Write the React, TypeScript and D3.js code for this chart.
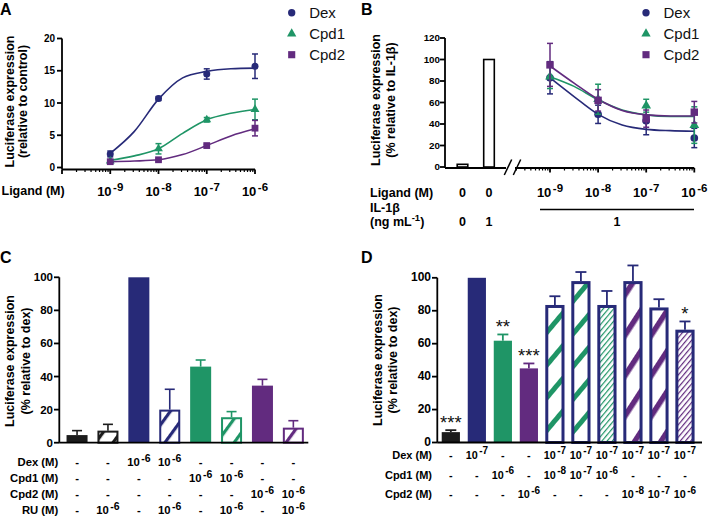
import React from 'react';
import * as d3 from 'd3';

const FONT = "'Liberation Sans', Arial, Helvetica, sans-serif";
const NAVY = '#272a78';
const GREEN = '#1f9566';
const PURPLE = '#622b7f';
const BLACK = '#1c1c1c';

// ---------------- Panel A data ----------------
const seriesNames = ['Dex', 'Cpd1', 'Cpd2'];
const aDoses = [-9, -8, -7, -6];
const aDexMean = [2.1, 10.7, 14.5, 15.7];
const aDexErr = [0.45, 0.3, 0.8, 1.9];
const aCpd1Mean = [1.0, 2.9, 7.4, 9.0];
const aCpd1Err = [0.2, 0.8, 0.35, 1.6];
const aCpd2Mean = [0.9, 1.2, 3.4, 6.1];
const aCpd2Err = [0.1, 0.15, 0.2, 1.2];
const aFitX = [-9, -8.5, -8, -7.5, -7, -6.5, -6];
const aDexFit = [2.2, 5.6, 10.6, 13.9, 14.9, 15.3, 15.4];
const aCpd1Fit = [1.1, 1.8, 2.9, 5.3, 7.4, 8.4, 9.0];
const aCpd2Fit = [0.9, 1.0, 1.2, 2.0, 3.4, 4.9, 6.0];
const aYTicks = [0, 5, 10, 15, 20];
const aXTickLabels = ['10^-9', '10^-8', '10^-7', '10^-6'];

// ---------------- Panel B data ----------------
const bCtrlIds = ['noIL', 'IL'];
const bCtrlValues = [2.5, 100];
const bCtrlLigand = ['0', '0'];
const bCtrlIL = ['0', '1'];
const bDoses = [-9, -8, -7, -6];
const bDexMean = [83, 49, 43, 27];
const bDexErr = [15, 8.5, 13, 9];
const bCpd1Mean = [84, 63, 57, 39];
const bCpd1Err = [11, 14, 6, 17];
const bCpd2Mean = [95, 62, 45, 51];
const bCpd2Err = [20, 10, 8, 10];
const bFitX = [-9, -8.5, -8, -7.5, -7, -6.5, -6];
const bDexFit = [83, 65.5, 49, 39, 35, 33.8, 33.3];
const bCpd1Fit = [84, 75, 62.5, 53, 48.5, 47, 47];
const bCpd2Fit = [94, 78, 63, 52.5, 48.5, 47.5, 47.5];
const bYTicks = [0, 20, 40, 60, 80, 100, 120];
const bXTickLabels = ['10^-9', '10^-8', '10^-7', '10^-6'];

// ---------------- Panel C data ----------------
const cIds = ['c1', 'c2', 'c3', 'c4', 'c5', 'c6', 'c7', 'c8'];
const cValues = [4.6, 7.3, 100, 20, 46, 15.4, 34.5, 9.1];
const cErrors = [2.7, 3.8, 0, 12.3, 4, 3.4, 3.8, 4.2];
const cYTicks = [0, 20, 40, 60, 80, 100];
const cRowLabels = ['Dex (M)', 'Cpd1 (M)', 'Cpd2 (M)', 'RU (M)'];
const cDexRow = ['-', '-', '10^-6', '10^-6', '-', '-', '-', '-'];
const cCpd1Row = ['-', '-', '-', '-', '10^-6', '10^-6', '-', '-'];
const cCpd2Row = ['-', '-', '-', '-', '-', '-', '10^-6', '10^-6'];
const cRuRow = ['-', '10^-6', '-', '10^-6', '-', '10^-6', '-', '10^-6'];

// ---------------- Panel D data ----------------
const dIds = ['d1', 'd2', 'd3', 'd4', 'd5', 'd6', 'd7', 'd8', 'd9', 'd10'];
const dValues = [6.3, 100, 61.8, 45, 83.5, 98, 83.5, 98, 82, 68.5];
const dErrors = [1.2, 0, 3.8, 3, 5.3, 5.5, 8.5, 9.5, 5, 5];
const dStars = ['***', '', '**', '***', '', '', '', '', '', '*'];
const dYTicks = [0, 20, 40, 60, 80, 100];
const dRowLabels = ['Dex (M)', 'Cpd1 (M)', 'Cpd2 (M)'];
const dDexRow = ['-', '10^-7', '-', '-', '10^-7', '10^-7', '10^-7', '10^-7', '10^-7', '10^-7'];
const dCpd1Row = ['-', '-', '10^-6', '-', '10^-8', '10^-7', '10^-6', '-', '-', '-'];
const dCpd2Row = ['-', '-', '-', '10^-6', '-', '-', '-', '10^-8', '10^-7', '10^-6'];

// ---------------- styles ----------------
const seriesColors = [NAVY, GREEN, PURPLE];
const cColors = [BLACK, BLACK, NAVY, NAVY, GREEN, GREEN, PURPLE, PURPLE];
const cHatched = [false, true, false, true, false, true, false, true];
const dFills = [BLACK, NAVY, GREEN, PURPLE, 'url(#dThickG)', 'url(#dThickG)', 'url(#dThinG)', 'url(#dThickP)', 'url(#dThickP)', 'url(#dThinP)'];
const dOutlined = [false, false, false, false, true, true, true, true, true, true];

function minorLogTicks(lo: number, hi: number) {
  const out: number[] = [];
  for (let d = Math.floor(lo); d < Math.ceil(hi); d++) {
    for (let k = 2; k <= 9; k++) {
      const v = d + Math.log10(k);
      if (v >= lo && v <= hi) out.push(v);
    }
  }
  return out;
}

function Pow({ s, x, y, size = 12, sup = 11, anchor = 'middle', raise = 5 }: any) {
  if (s.indexOf('^') < 0) {
    return (
      <text x={x} y={y} textAnchor={anchor} fontSize={size} fontWeight="bold" fontFamily={FONT}>{s}</text>
    );
  }
  const [base, exp] = s.split('^');
  return (
    <text x={x} y={y} textAnchor={anchor} fontSize={size} fontWeight="bold" fontFamily={FONT}>
      <tspan>{base}</tspan>
      <tspan dx={1.5} dy={-raise} fontSize={sup}>{exp}</tspan>
    </text>
  );
}

function Marker({ i, x, y, scale = 1 }: any) {
  const color = seriesColors[i];
  if (i === 0) return <circle cx={x} cy={y} r={3.5 * scale} fill={color} />;
  const sym = i === 1 ? d3.symbolTriangle : d3.symbolSquare;
  const size = i === 1 ? 34 * scale * scale : 46 * scale * scale;
  const p = d3.symbol().type(sym).size(size)();
  return <path d={p || ''} transform={`translate(${x},${y})`} fill={color} />;
}

function ErrBar({ x, y1, y2, color, cap = 6, sw = 1.5 }: any) {
  return (
    <g stroke={color} strokeWidth={sw} fill="none">
      <line x1={x} x2={x} y1={y1} y2={y2} />
      <line x1={x - cap / 2} x2={x + cap / 2} y1={y1} y2={y1} />
      <line x1={x - cap / 2} x2={x + cap / 2} y1={y2} y2={y2} />
    </g>
  );
}

function UpErr({ x, y1, y2, color, cap = 10, sw = 1.6 }: any) {
  return (
    <g stroke={color} strokeWidth={sw} fill="none">
      <line x1={x} x2={x} y1={y1} y2={y2} />
      <line x1={x - cap / 2} x2={x + cap / 2} y1={y2} y2={y2} />
    </g>
  );
}

function YLabel({ x1, x2, cy, l1, l2, size = 12.5 }: any) {
  return (
    <g fontFamily={FONT} fontWeight="bold" fontSize={size} textAnchor="middle">
      <text transform={`translate(${x1},${cy}) rotate(-90)`}>{l1}</text>
      <text transform={`translate(${x2},${cy}) rotate(-90)`}>{l2}</text>
    </g>
  );
}

function Legend({ x, y }: any) {
  return (
    <g>
      {seriesNames.map((n, i) => (
        <g key={n}>
          <Marker i={i} x={x} y={y + i * 21} scale={1.05} />
          <text x={x + 17.5} y={y + i * 21 + 5.3} fontSize={15} fontFamily={FONT} fill="#111">{n}</text>
        </g>
      ))}
    </g>
  );
}

export default function App() {
  // ---------- Panel A scales ----------
  const ax = d3.scaleLinear().domain([-10, -6]).range([62, 255]);
  const ay = d3.scaleLinear().domain([0, 20]).range([167.5, 38.5]);
  const aAxisY = 169.5;
  const aLine = d3.line<[number, number]>().x(d => ax(d[0])).y(d => ay(d[1])).curve(d3.curveMonotoneX);
  const aMeans = [aDexMean, aCpd1Mean, aCpd2Mean];
  const aErrs = [aDexErr, aCpd1Err, aCpd2Err];
  const aFits = [aDexFit, aCpd1Fit, aCpd2Fit];

  // ---------- Panel B scales ----------
  const bx = d3.scaleLinear().domain([-9, -6]).range([550, 694.3]);
  const bStart = bx.invert(515);
  const by = d3.scaleLinear().domain([0, 120]).range([167, 38]);
  const bAxisY = 168;
  const bBand = d3.scaleBand().domain(bCtrlIds).range([449.25, 502.25]).paddingInner(0.6).paddingOuter(0.3);
  const bLine = d3.line<[number, number]>().x(d => bx(d[0])).y(d => by(d[1])).curve(d3.curveMonotoneX);
  const bMeans = [bDexMean, bCpd1Mean, bCpd2Mean];
  const bErrs = [bDexErr, bCpd1Err, bCpd2Err];
  const bFits = [bDexFit, bCpd1Fit, bCpd2Fit];

  // ---------- Panel C scales ----------
  const cx = d3.scaleBand().domain(cIds).range([61.6, 308.8]).paddingInner(0.32).paddingOuter(0.16);
  const cy = d3.scaleLinear().domain([0, 100]).range([442.7, 277.3]);
  const cRows = [cDexRow, cCpd1Row, cCpd2Row, cRuRow];
  const cRowY = [466, 482, 498, 514];

  // ---------- Panel D scales ----------
  const dx = d3.scaleBand().domain(dIds).range([437.3, 698.5]).paddingInner(0.3).paddingOuter(0.17);
  const dy = d3.scaleLinear().domain([0, 100]).range([442.5, 277.8]);
  const dRows = [dDexRow, dCpd1Row, dCpd2Row];
  const dRowY = [458.5, 478.5, 498];

  const axisSW = 1.8;

  return (
    <svg width={709} height={518} style={{ position: 'absolute', left: 0, top: 0, background: '#fff' }} fontFamily={FONT}>
      <defs>
        <pattern id="cHatchBlack" patternUnits="userSpaceOnUse" width={14} height={14} patternTransform="rotate(36)">
          <rect width={14} height={14} fill="#fff" />
          <rect width={3.2} height={14} fill={BLACK} />
        </pattern>
        <pattern id="cHatchNavy" patternUnits="userSpaceOnUse" width={14} height={14} patternTransform="rotate(36)">
          <rect width={14} height={14} fill="#fff" />
          <rect width={3.2} height={14} fill={NAVY} />
        </pattern>
        <pattern id="cHatchGreen" patternUnits="userSpaceOnUse" width={14} height={14} patternTransform="rotate(36)">
          <rect width={14} height={14} fill="#fff" />
          <rect width={3.2} height={14} fill={GREEN} />
        </pattern>
        <pattern id="cHatchPurple" patternUnits="userSpaceOnUse" width={14} height={14} patternTransform="rotate(36)">
          <rect width={14} height={14} fill="#fff" />
          <rect width={3.2} height={14} fill={PURPLE} />
        </pattern>
        <pattern id="dThickG" patternUnits="userSpaceOnUse" width={21} height={21} patternTransform="rotate(40)">
          <rect width={21} height={21} fill="#fff" />
          <rect width={5} height={21} fill={GREEN} />
        </pattern>
        <pattern id="dThickP" patternUnits="userSpaceOnUse" width={22} height={22} patternTransform="rotate(33)">
          <rect width={22} height={22} fill="#fff" />
          <rect width={5.5} height={22} fill={PURPLE} />
        </pattern>
        <pattern id="dThinG" patternUnits="userSpaceOnUse" width={4} height={4} patternTransform="rotate(40)">
          <rect width={4} height={4} fill="#fff" />
          <rect width={1.2} height={4} fill={GREEN} />
        </pattern>
        <pattern id="dThinP" patternUnits="userSpaceOnUse" width={4} height={4} patternTransform="rotate(40)">
          <rect width={4} height={4} fill="#fff" />
          <rect width={1.2} height={4} fill={PURPLE} />
        </pattern>
      </defs>

      {/* Panel letters */}
      <g fontWeight="bold" fontSize={16} fontFamily={FONT}>
        <text x={0} y={14.5}>A</text>
        <text x={361} y={14.5}>B</text>
        <text x={0} y={262.5}>C</text>
        <text x={361} y={262.5}>D</text>
      </g>

      {/* ================= Panel A ================= */}
      <YLabel x1={13.5} x2={26.5} cy={101.5} l1="Luciferase expression" l2="(relative to control)" />
      <g stroke="#000" strokeWidth={axisSW}>
        <line x1={62} x2={62} y1={ay(20)} y2={aAxisY} />
        <line x1={ax(-10)} x2={ax(-6)} y1={aAxisY} y2={aAxisY} />
        {aYTicks.map(t => <line key={t} x1={57} x2={62} y1={ay(t)} y2={ay(t)} />)}
        {[-10, -9, -8, -7, -6].map(t => <line key={t} x1={ax(t)} x2={ax(t)} y1={aAxisY} y2={aAxisY + 4.5} />)}
        {minorLogTicks(-10, -6).map(t => <line key={t} x1={ax(t)} x2={ax(t)} y1={aAxisY} y2={aAxisY + 2.5} strokeWidth={1.2} />)}
      </g>
      {aYTicks.map(t => (
        <text key={t} x={55} y={ay(t) + 3.5} textAnchor="end" fontSize={10} fontWeight="bold">{t}</text>
      ))}
      <text x={1.5} y={195} fontSize={12.5} fontWeight="bold">Ligand (M)</text>
      {aXTickLabels.map((s, i) => <Pow key={s} s={s} x={ax(aDoses[i])} y={196} size={13} sup={11.5} />)}
      {aFits.map((f, si) => (
        <path key={si} d={aLine(aFitX.map((x, i) => [x, f[i]] as [number, number])) || ''} fill="none" stroke={seriesColors[si]} strokeWidth={1.6} />
      ))}
      {aMeans.map((m, si) => (
        <g key={si}>
          {m.map((v, i) => (
            <ErrBar key={i} x={ax(aDoses[i])} y1={ay(v + aErrs[si][i])} y2={ay(v - aErrs[si][i])} color={seriesColors[si]} />
          ))}
          {m.map((v, i) => <Marker key={'m' + i} i={si} x={ax(aDoses[i])} y={ay(v)} />)}
        </g>
      ))}
      <Legend x={291.7} y={12.7} />

      {/* ================= Panel B ================= */}
      <YLabel x1={380} x2={395} cy={100} l1="Luciferase expression" l2="(% relative to IL-1β)" />
      <g stroke="#000" strokeWidth={axisSW}>
        <line x1={445} x2={445} y1={by(120)} y2={bAxisY} />
        <line x1={445} x2={506} y1={bAxisY} y2={bAxisY} />
        <line x1={515} x2={bx(-6)} y1={bAxisY} y2={bAxisY} />
        {bYTicks.map(t => <line key={t} x1={440} x2={445} y1={by(t)} y2={by(t)} />)}
        {[-9, -8, -7, -6].map(t => <line key={t} x1={bx(t)} x2={bx(t)} y1={bAxisY} y2={bAxisY + 4.5} />)}
        {minorLogTicks(bStart, -6).map(t => <line key={t} x1={bx(t)} x2={bx(t)} y1={bAxisY} y2={bAxisY + 2.5} strokeWidth={1.2} />)}
        <line x1={504.3} y1={175} x2={511.7} y2={159.5} strokeWidth={1.5} />
        <line x1={513.3} y1={175} x2={520.7} y2={159.5} strokeWidth={1.5} />
      </g>
      {bYTicks.map(t => (
        <text key={t} x={440} y={by(t) + 3.3} textAnchor="end" fontSize={9.8} fontWeight="bold">{t}</text>
      ))}
      {bCtrlIds.map((id, i) => (
        <rect key={id} x={bBand(id)!} width={bBand.bandwidth()} y={by(bCtrlValues[i])} height={by(0) - by(bCtrlValues[i])}
          fill="#fff" stroke="#000" strokeWidth={1.6} />
      ))}
      {bFits.map((f, si) => (
        <path key={si} d={bLine(bFitX.map((x, i) => [x, f[i]] as [number, number])) || ''} fill="none" stroke={seriesColors[si]} strokeWidth={1.6} />
      ))}
      {bMeans.map((m, si) => (
        <g key={si}>
          {m.map((v, i) => (
            <ErrBar key={i} x={bx(bDoses[i])} y1={by(v + bErrs[si][i])} y2={by(v - bErrs[si][i])} color={seriesColors[si]} />
          ))}
          {m.map((v, i) => <Marker key={'m' + i} i={si} x={bx(bDoses[i])} y={by(v)} scale={1.1} />)}
        </g>
      ))}
      <Legend x={646} y={12.7} />
      <text x={370} y={197} fontSize={12.5} fontWeight="bold">Ligand (M)</text>
      {bCtrlIds.map((id, i) => (
        <text key={id} x={bBand(id)! + bBand.bandwidth() / 2} y={197} textAnchor="middle" fontSize={12.5} fontWeight="bold">{bCtrlLigand[i]}</text>
      ))}
      {bXTickLabels.map((s, i) => <Pow key={s} s={s} x={bx(bDoses[i])} y={196.5} size={13} sup={11.5} />)}
      <text x={370} y={211.5} fontSize={12.5} fontWeight="bold">IL-1β</text>
      <text x={370} y={226} fontSize={12.5} fontWeight="bold">
        <tspan>(ng mL</tspan>
        <tspan dy={-5} fontSize={9.5}>-1</tspan>
        <tspan dy={5}>)</tspan>
      </text>
      {bCtrlIds.map((id, i) => (
        <text key={id} x={bBand(id)! + bBand.bandwidth() / 2} y={226} textAnchor="middle" fontSize={12.5} fontWeight="bold">{bCtrlIL[i]}</text>
      ))}
      <line x1={540} x2={694} y1={209.5} y2={209.5} stroke="#000" strokeWidth={1.3} />
      <text x={(540 + 694) / 2} y={226} textAnchor="middle" fontSize={12.5} fontWeight="bold">1</text>

      {/* ================= Panel C ================= */}
      <YLabel x1={14} x2={29.5} cy={361} l1="Luciferase expression" l2="(% relative to dex)" />
      {cIds.map((id, i) => {
        const x = cx(id)!;
        const w = cx.bandwidth();
        const top = cy(cValues[i]);
        const color = cColors[i];
        const cx0 = x + w / 2;
        const patId = color === BLACK ? 'cHatchBlack' : color === NAVY ? 'cHatchNavy' : color === GREEN ? 'cHatchGreen' : 'cHatchPurple';
        return (
          <g key={id}>
            {cErrors[i] > 0 && <UpErr x={cx0} y1={top} y2={cy(cValues[i] + cErrors[i])} color={color} />}
            {cHatched[i]
              ? <rect x={x + 1} width={w - 2} y={top + 1} height={cy(0) - top - 1} fill={`url(#${patId})`} stroke={color} strokeWidth={2} />
              : <rect x={x} width={w} y={top} height={cy(0) - top} fill={color} />}
          </g>
        );
      })}
      <g stroke="#000" strokeWidth={axisSW}>
        <line x1={59.3} x2={59.3} y1={cy(100)} y2={cy(0)} />
        <line x1={59.3} x2={308.3} y1={cy(0)} y2={cy(0)} />
        {cYTicks.map(t => <line key={t} x1={54} x2={59.3} y1={cy(t)} y2={cy(t)} />)}
      </g>
      {cYTicks.map(t => (
        <text key={t} x={53} y={cy(t) + 4} textAnchor="end" fontSize={11.5} fontWeight="bold">{t}</text>
      ))}
      {cRowLabels.map((l, r) => (
        <g key={l}>
          <text x={58.3} y={cRowY[r]} textAnchor="end" fontSize={11.3} fontWeight="bold">{l}</text>
          {cRows[r].map((s, i) => (
            <Pow key={i} s={s} x={cx(cIds[i])! + cx.bandwidth() / 2} y={cRowY[r]} size={11.3} sup={10.5} raise={4.5} />
          ))}
        </g>
      ))}

      {/* ================= Panel D ================= */}
      <YLabel x1={382} x2={397} cy={360} l1="Luciferase expression" l2="(% relative to dex)" />
      {dIds.map((id, i) => {
        const x = dx(id)!;
        const w = dx.bandwidth();
        const top = dy(dValues[i]);
        const c0 = x + w / 2;
        const errTop = dy(dValues[i] + dErrors[i]);
        const errColor = dOutlined[i] ? NAVY : dFills[i];
        return (
          <g key={id}>
            {dErrors[i] > 0 && <UpErr x={c0} y1={top} y2={errTop} color={errColor} cap={11} sw={1.8} />}
            {dOutlined[i]
              ? <rect x={x + 1} width={w - 2} y={top + 1.5} height={dy(0) - top - 1.5} fill={dFills[i]} stroke={NAVY} strokeWidth={3} />
              : <rect x={x} width={w} y={top} height={dy(0) - top} fill={dFills[i]} />}
            {dStars[i] && (
              <text x={c0} y={errTop - 1.5} textAnchor="middle" fontSize={18.5} fill="#111">{dStars[i]}</text>
            )}
          </g>
        );
      })}
      <g stroke="#000" strokeWidth={axisSW}>
        <line x1={437.3} x2={437.3} y1={dy(100)} y2={dy(0)} />
        <line x1={437.3} x2={702} y1={dy(0)} y2={dy(0)} />
        {dYTicks.map(t => <line key={t} x1={432} x2={437.3} y1={dy(t)} y2={dy(t)} />)}
      </g>
      {dYTicks.map(t => (
        <text key={t} x={431} y={dy(t) + 3.6} textAnchor="end" fontSize={12} fontWeight="bold">{t}</text>
      ))}
      {dRowLabels.map((l, r) => (
        <g key={l}>
          <text x={432} y={dRowY[r]} textAnchor="end" fontSize={11} fontWeight="bold">{l}</text>
          {dRows[r].map((s, i) => (
            <Pow key={i} s={s} x={dx(dIds[i])! + dx.bandwidth() / 2} y={dRowY[r]} size={10.8} sup={10} raise={4.5} />
          ))}
        </g>
      ))}
    </svg>
  );
}
